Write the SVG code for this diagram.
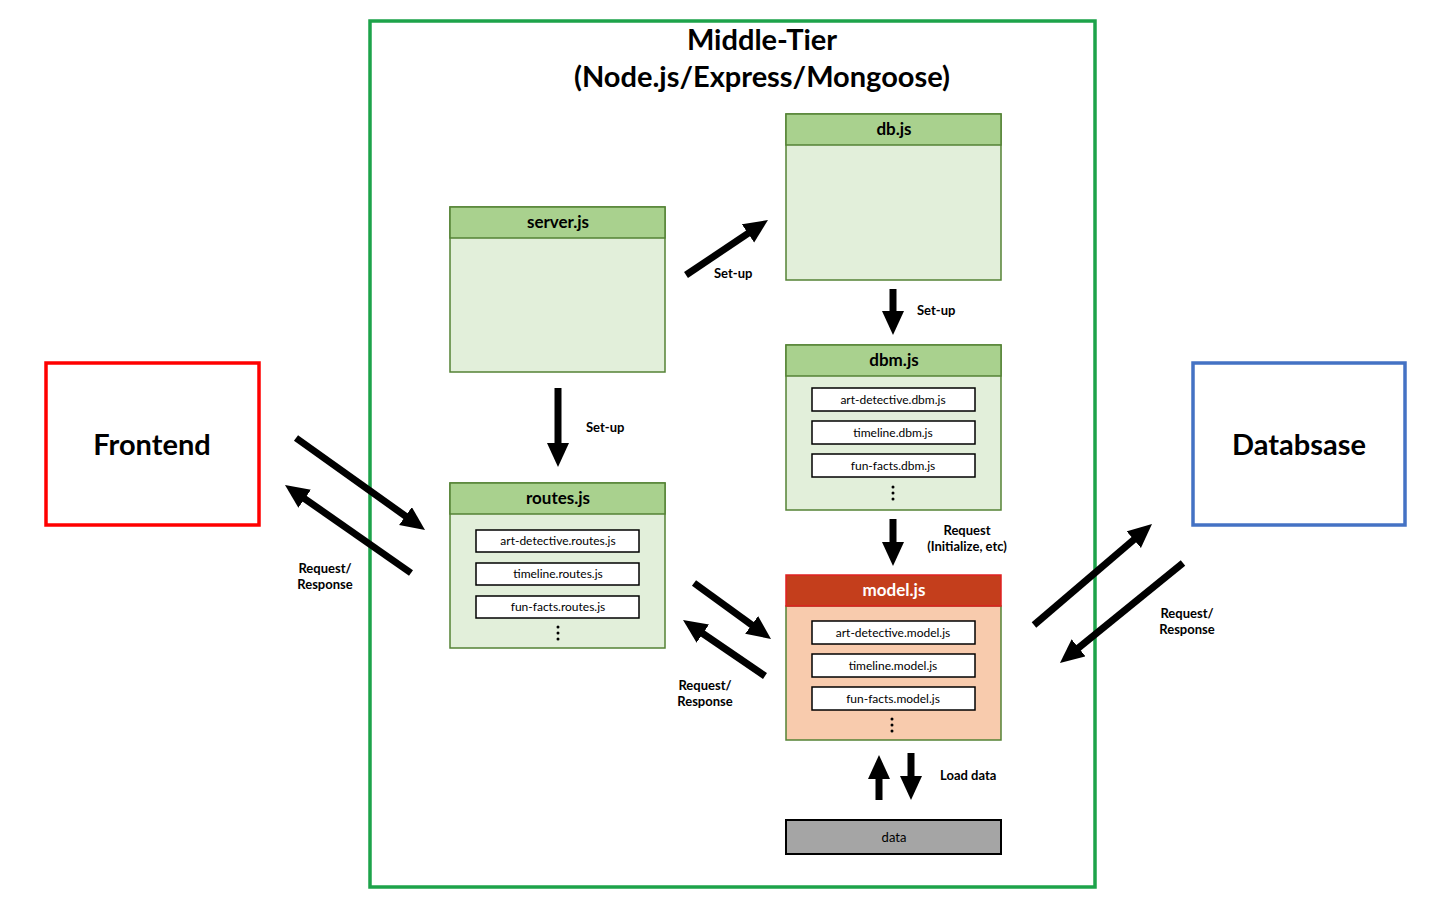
<svg xmlns="http://www.w3.org/2000/svg" width="1456" height="912" viewBox="0 0 1456 912">
<style>
text{font-family:Lato,"Open Sans","Liberation Sans",sans-serif;fill:#000}
.title{font-size:29px;font-weight:bold;text-anchor:middle}
.big{font-size:29px;font-weight:bold;text-anchor:middle}
.hdr{font-size:17px;font-weight:bold;text-anchor:middle}
.lbl{font-size:13px;font-weight:bold}
.item{font-size:12px;text-anchor:middle}
.body{fill:#E2EFDA;stroke:#548235;stroke-width:1.5}
.head{fill:#A9D18E;stroke:#548235;stroke-width:1.5}
.inner{fill:#fff;stroke:#000;stroke-width:1.5}
.arr{stroke:#000;stroke-width:7;fill:none;marker-end:url(#ah)}
</style>
<defs>
<marker id="ah" markerUnits="userSpaceOnUse" markerWidth="26" markerHeight="24" refX="9" refY="11" orient="auto">
<path d="M0,0 L24,11 L0,22 z" fill="#000"/>
</marker>
</defs>
<rect width="1456" height="912" fill="#fff"/>
<g id="middle-tier">
<rect x="370" y="21" width="725" height="866" fill="none" stroke="#1DA34A" stroke-width="3.5"/>
<text class="title" x="762" y="50">Middle-Tier</text>
<text class="title" x="762" y="87">(Node.js/Express/Mongoose)</text>
</g>
<g id="frontend">
<rect x="46" y="363" width="213" height="162" fill="#fff" stroke="#FF0000" stroke-width="3.5"/>
<text class="big" x="152" y="455">Frontend</text>
</g>
<g id="database">
<rect x="1193" y="363" width="212" height="162" fill="#fff" stroke="#4472C4" stroke-width="3.5"/>
<text class="big" x="1299" y="455">Databsase</text>
</g>
<g id="server">
<rect class="body" x="450" y="207" width="215" height="165"/>
<rect class="head" x="450" y="207" width="215" height="31"/>
<text class="hdr" x="558" y="228">server.js</text>
</g>
<g id="db">
<rect class="body" x="786" y="114" width="215" height="166"/>
<rect class="head" x="786" y="114" width="215" height="31"/>
<text class="hdr" x="894" y="135">db.js</text>
</g>
<g id="dbm">
<rect class="body" x="786" y="345" width="215" height="165"/>
<rect class="head" x="786" y="345" width="215" height="31"/>
<text class="hdr" x="894" y="366">dbm.js</text>
<rect class="inner" x="812" y="388" width="163" height="23"/>
<text class="item" x="893" y="404">art-detective.dbm.js</text>
<rect class="inner" x="812" y="421" width="163" height="23"/>
<text class="item" x="893" y="437">timeline.dbm.js</text>
<rect class="inner" x="812" y="454" width="163" height="23"/>
<text class="item" x="893" y="470">fun-facts.dbm.js</text>
<circle cx="893" cy="487" r="1.5"/><circle cx="893" cy="493" r="1.5"/><circle cx="893" cy="499" r="1.5"/>
</g>
<g id="routes">
<rect class="body" x="450" y="483" width="215" height="165"/>
<rect class="head" x="450" y="483" width="215" height="31"/>
<text class="hdr" x="558" y="504">routes.js</text>
<rect class="inner" x="476" y="530" width="163" height="22"/>
<text class="item" x="558" y="545">art-detective.routes.js</text>
<rect class="inner" x="476" y="563" width="163" height="22"/>
<text class="item" x="558" y="578">timeline.routes.js</text>
<rect class="inner" x="476" y="596" width="163" height="22"/>
<text class="item" x="558" y="611">fun-facts.routes.js</text>
<circle cx="558" cy="627" r="1.5"/><circle cx="558" cy="633" r="1.5"/><circle cx="558" cy="639" r="1.5"/>
</g>
<g id="model">
<rect x="786" y="606" width="215" height="134" fill="#F8CBAD" stroke="#548235" stroke-width="1.5"/>
<rect x="786" y="575" width="215" height="31" fill="#C43E1C" stroke="#E02020" stroke-width="1.5"/>
<text class="hdr" x="894" y="596" style="fill:#fff">model.js</text>
<rect class="inner" x="812" y="621" width="163" height="23"/>
<text class="item" x="893" y="637">art-detective.model.js</text>
<rect class="inner" x="812" y="654" width="163" height="23"/>
<text class="item" x="893" y="670">timeline.model.js</text>
<rect class="inner" x="812" y="687" width="163" height="23"/>
<text class="item" x="893" y="703">fun-facts.model.js</text>
<circle cx="892" cy="719" r="1.5"/><circle cx="892" cy="725" r="1.5"/><circle cx="892" cy="731" r="1.5"/>
</g>
<g id="data">
<rect x="786" y="820" width="215" height="34" fill="#A5A5A5" stroke="#000" stroke-width="2"/>
<text class="item" x="894" y="842" style="font-size:13px">data</text>
</g>
<g id="connectors">
<line class="arr" x1="686" y1="275" x2="755.5" y2="228.4"/>
<line class="arr" x1="893" y1="289" x2="893" y2="320"/>
<line class="arr" x1="558" y1="388" x2="558" y2="452"/>
<line class="arr" x1="893" y1="519" x2="893" y2="551"/>
<line class="arr" x1="296" y1="438" x2="412.8" y2="521.3"/>
<line class="arr" x1="411" y1="573" x2="297.3" y2="493.6"/>
<line class="arr" x1="694" y1="583" x2="758.9" y2="630.2"/>
<line class="arr" x1="765" y1="676" x2="695.4" y2="628.5"/>
<line class="arr" x1="1034" y1="625" x2="1140.6" y2="533.8"/>
<line class="arr" x1="1183" y1="563" x2="1071.6" y2="653.5"/>
<line class="arr" x1="879" y1="800" x2="879" y2="770"/>
<line class="arr" x1="911" y1="753" x2="911" y2="785"/>
<text class="lbl" x="714" y="278">Set-up</text>
<text class="lbl" x="917" y="315">Set-up</text>
<text class="lbl" x="586" y="432">Set-up</text>
<text class="lbl" x="967" y="535" text-anchor="middle">Request</text>
<text class="lbl" x="967" y="551" text-anchor="middle">(Initialize, etc)</text>
<text class="lbl" x="325" y="573" text-anchor="middle">Request/</text>
<text class="lbl" x="325" y="589" text-anchor="middle">Response</text>
<text class="lbl" x="705" y="690" text-anchor="middle">Request/</text>
<text class="lbl" x="705" y="706" text-anchor="middle">Response</text>
<text class="lbl" x="1187" y="618" text-anchor="middle">Request/</text>
<text class="lbl" x="1187" y="634" text-anchor="middle">Response</text>
<text class="lbl" x="940" y="780">Load data</text>
</g>
</svg>
